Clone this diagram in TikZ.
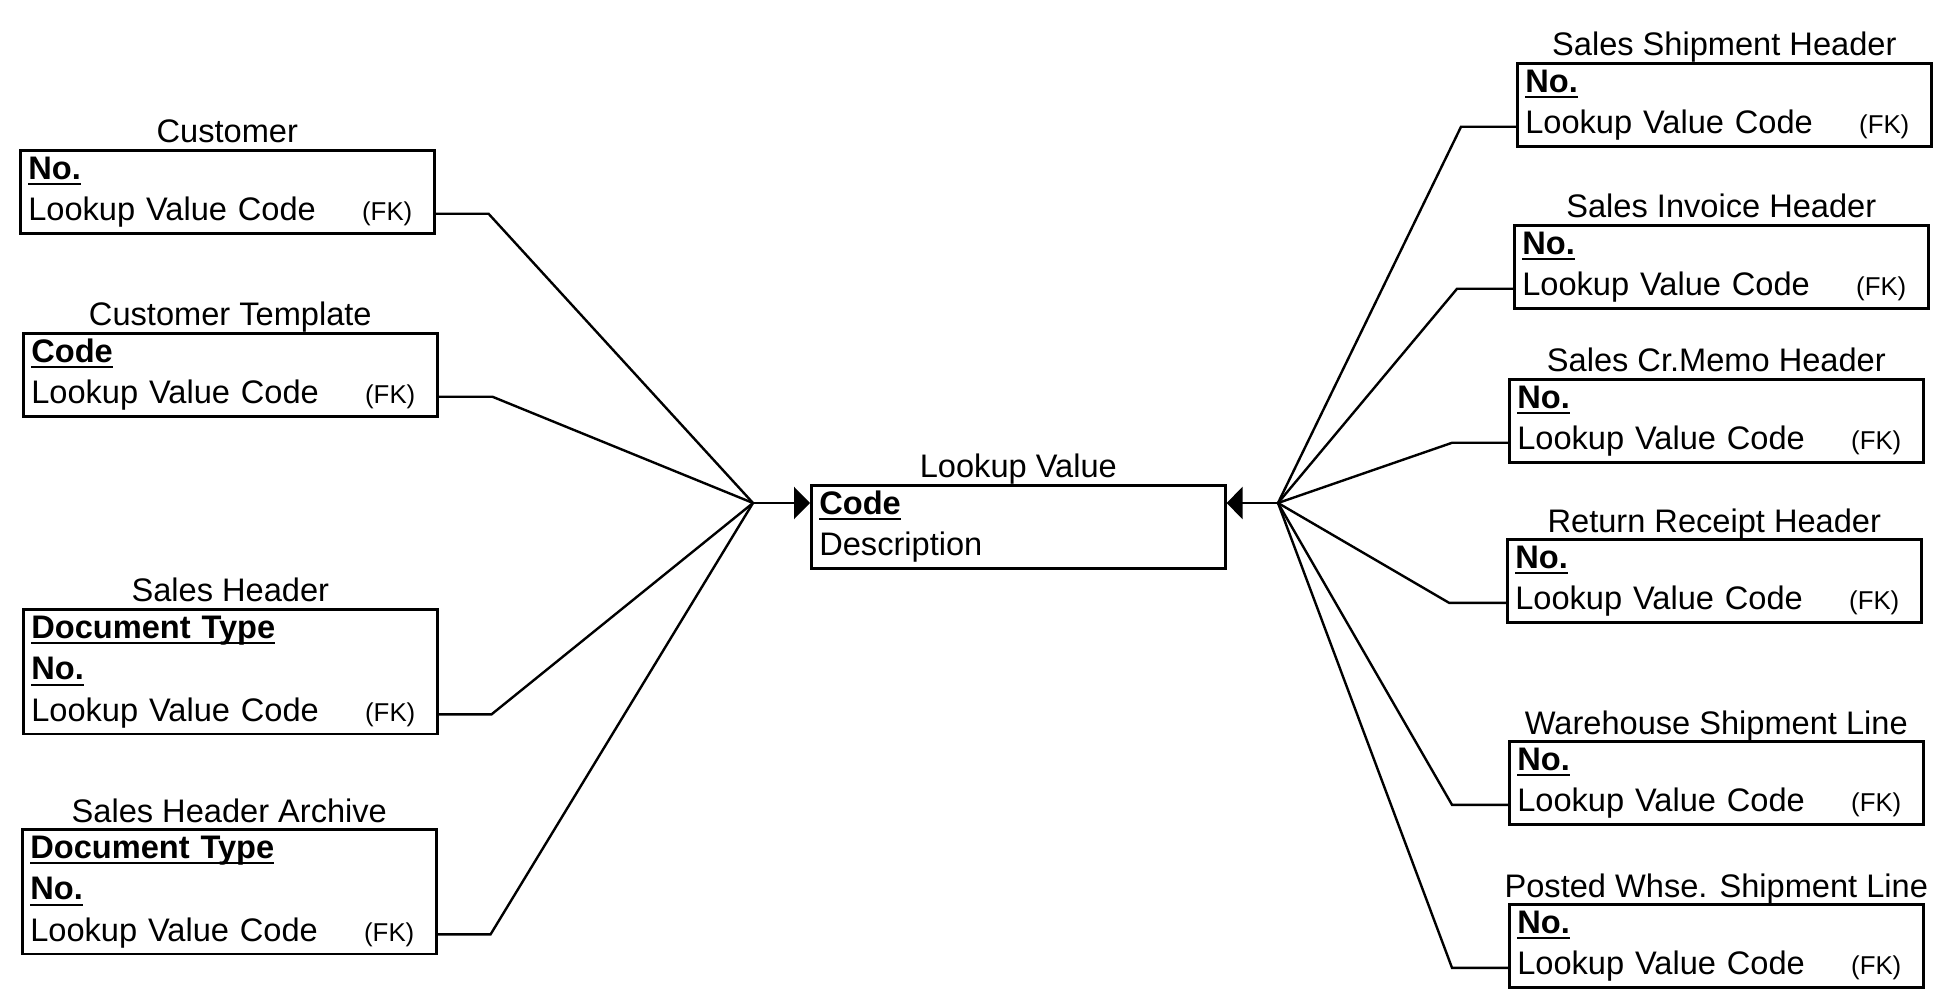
\documentclass[tikz,border=0pt]{standalone}
\usepackage{fontspec}
\setmainfont{Liberation Sans}
\usepackage{tikz}
\usetikzlibrary{arrows.meta,positioning,calc}
\newsavebox{\pkbox}
\newcommand{\pk}[1]{\leavevmode\sbox{\pkbox}{\bfseries #1}\rlap{\rule[-3pt]{\wd\pkbox}{1.1pt}}\usebox{\pkbox}\strut}
\newcommand{\fk}{\leavevmode\strut Lookup Value Code\hfill{\fontsize{12.9pt}{14pt}\selectfont (FK)}\kern7pt\strut}

\begin{document}
\begin{tikzpicture}[
  x=0.5pt,y=0.5pt,
  ent/.style={draw,line width=1.3pt,anchor=north west,align=left,text width=199pt,inner xsep=4pt,inner ysep=0pt,font=\fontsize{16.3pt}{20.75pt}\selectfont},
  ttl/.style={inner sep=0pt,font=\fontsize{16.3pt}{20.75pt}\selectfont},
  rel/.style={line width=1.2pt},
  arr/.style={-{Triangle[length=8pt,width=16pt]},line width=1.2pt}]
\useasboundingbox (0,0) rectangle (1950,-1005);
\node[ent] (lv) at (810,-484) {\pk{Code}\\ \strut Description};
\node[ent] (cust) at (19,-149) {\pk{No.}\\ \fk};
\node[ent] (ctmpl) at (22,-332) {\pk{Code}\\ \fk};
\node[ent] (shdr) at (22,-608) {\pk{Document Type}\\ \pk{No.}\\ \fk};
\node[ent] (sharc) at (21,-828) {\pk{Document Type}\\ \pk{No.}\\ \fk};
\node[ent] (ssh) at (1516,-62) {\pk{No.}\\ \fk};
\node[ent] (sih) at (1513,-224) {\pk{No.}\\ \fk};
\node[ent] (scm) at (1508,-378) {\pk{No.}\\ \fk};
\node[ent] (rrh) at (1506,-538) {\pk{No.}\\ \fk};
\node[ent] (wsl) at (1508,-740) {\pk{No.}\\ \fk};
\node[ent] (pwsl) at (1508,-903) {\pk{No.}\\ \fk};
% table names
\node[ttl,above=3pt of lv.north,anchor=base] (lvt) {Lookup Value};
\node[ttl,above=3pt of cust.north,anchor=base] (custt) {Customer};
\node[ttl,above=3pt of ctmpl.north,anchor=base] (ctmplt) {Customer Template};
\node[ttl,above=3pt of shdr.north,anchor=base] (shdrt) {Sales Header};
\node[ttl,above=3pt of sharc.north,anchor=base] (sharct) {Sales Header Archive};
\node[ttl,above=3pt of ssh.north,anchor=base] (ssht) {Sales Shipment Header};
\node[ttl,above=3pt of sih.north,anchor=base] (siht) {Sales Invoice Header};
\node[ttl,above=3pt of scm.north,anchor=base] (scmt) {Sales Cr.Memo Header};
\node[ttl,above=3pt of rrh.north,anchor=base] (rrht) {Return Receipt Header};
\node[ttl,above=3pt of wsl.north,anchor=base] (wslt) {Warehouse Shipment Line};
\node[ttl,above=3pt of pwsl.north,anchor=base] (pwslt) {Posted Whse. Shipment Line};
% relations
\coordinate (hubL) at (753,-503);
\coordinate (hubR) at (1278,-503);
\draw[arr] (hubL) -- (lv.west |- hubL);
\draw[arr] (hubR) -- (lv.east |- hubR);
\draw[rel] ($(cust.south east)+(0,10.4pt)$) -- ++(53,0) -- (hubL);
\draw[rel] ($(ctmpl.south east)+(0,10.4pt)$) -- ++(54,0) -- (hubL);
\draw[rel] ($(shdr.south east)+(0,10.4pt)$) -- ++(53,0) -- (hubL);
\draw[rel] ($(sharc.south east)+(0,10.4pt)$) -- ++(53,0) -- (hubL);
\draw[rel] ($(ssh.south west)+(0,10.4pt)$) -- ++(-55,0) -- (hubR);
\draw[rel] ($(sih.south west)+(0,10.4pt)$) -- ++(-56,0) -- (hubR);
\draw[rel] ($(scm.south west)+(0,10.4pt)$) -- ++(-56,0) -- (hubR);
\draw[rel] ($(rrh.south west)+(0,10.4pt)$) -- ++(-57,0) -- (hubR);
\draw[rel] ($(wsl.south west)+(0,10.4pt)$) -- ++(-56,0) -- (hubR);
\draw[rel] ($(pwsl.south west)+(0,10.4pt)$) -- ++(-56,0) -- (hubR);
\end{tikzpicture}
\end{document}
